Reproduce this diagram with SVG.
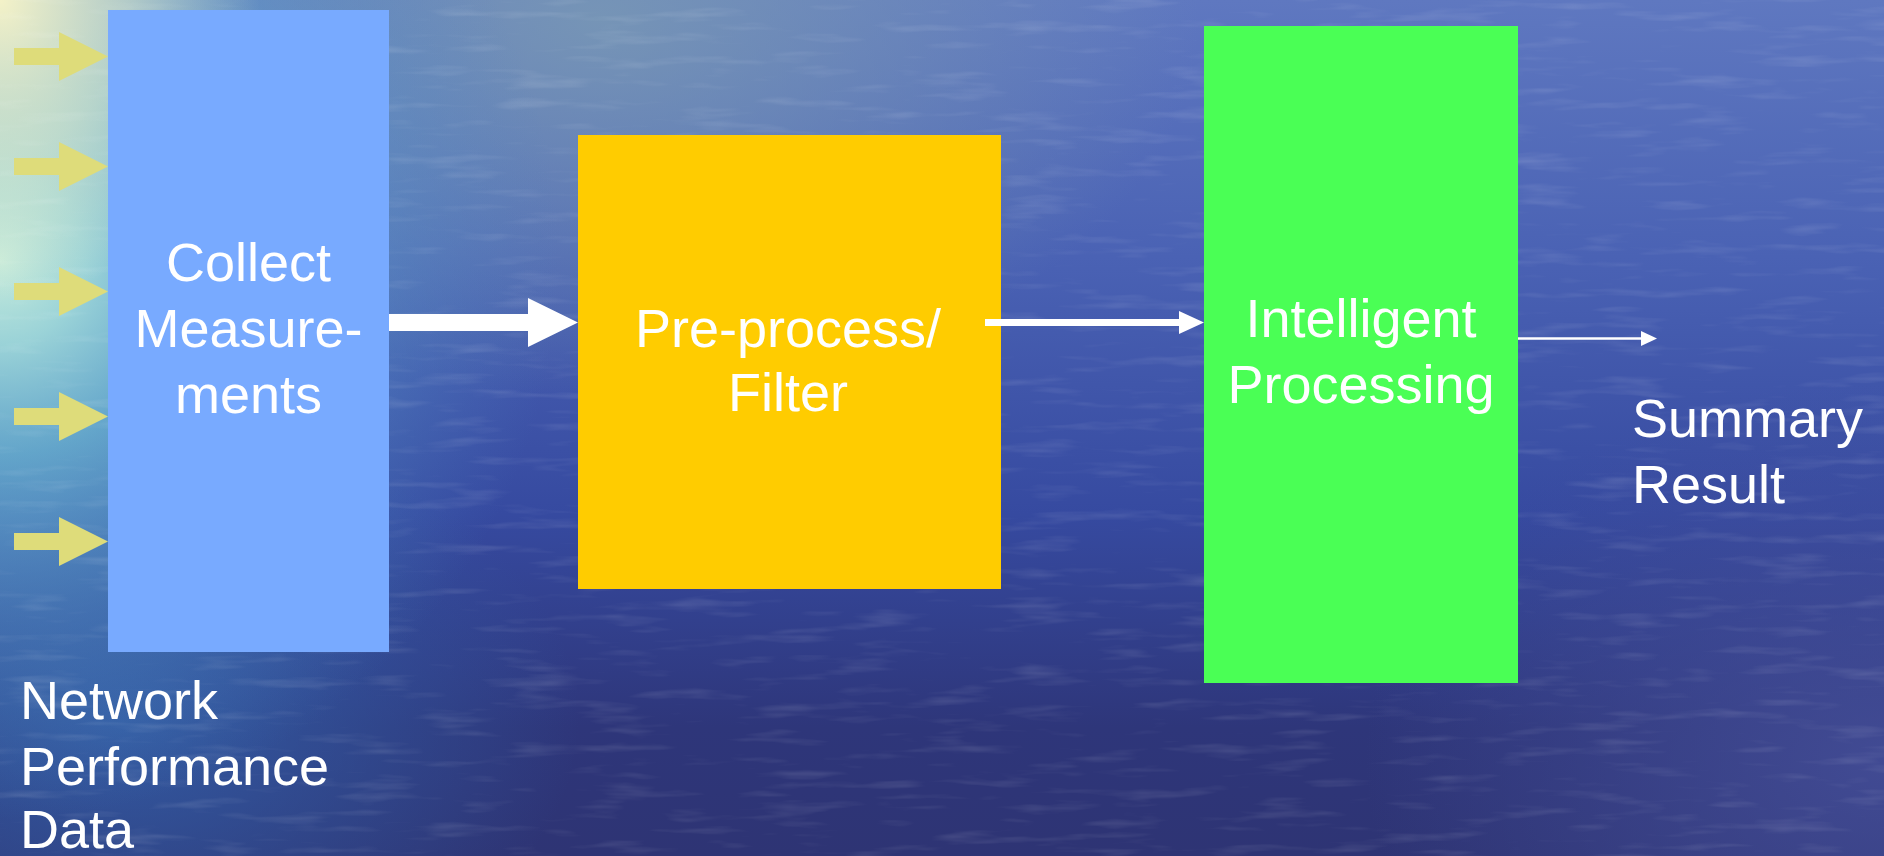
<svg xmlns="http://www.w3.org/2000/svg" width="1884" height="856" viewBox="0 0 1884 856">
<style>
.lbl{font-family:"Liberation Sans",Arial,sans-serif;font-size:54px;fill:#ffffff}
.mid{text-anchor:middle}
.in{fill:#dedc7a}
.wa{fill:#ffffff}
</style>
<defs>
<linearGradient id="bg" x1="0" y1="0" x2="0" y2="1">
<stop offset="0" stop-color="#5f78c0"/>
<stop offset="0.3" stop-color="#4a62b4"/>
<stop offset="0.6" stop-color="#364aa0"/>
<stop offset="0.85" stop-color="#2e367a"/>
<stop offset="1" stop-color="#2e3474"/>
</linearGradient>
<radialGradient id="glow" cx="0" cy="0" r="1" gradientUnits="userSpaceOnUse" gradientTransform="translate(0 260) scale(560 560)">
<stop offset="0" stop-color="#c8ecdc" stop-opacity="1"/>
<stop offset="0.15" stop-color="#a4e0dc" stop-opacity="0.9"/>
<stop offset="0.35" stop-color="#70c0d6" stop-opacity="0.75"/>
<stop offset="0.65" stop-color="#5a9ccc" stop-opacity="0.4"/>
<stop offset="1" stop-color="#4a84c4" stop-opacity="0"/>
</radialGradient>
<radialGradient id="corner" cx="0" cy="0" r="1" gradientUnits="userSpaceOnUse" gradientTransform="translate(0 0) scale(260 300)">
<stop offset="0" stop-color="#f4f2c8" stop-opacity="1"/>
<stop offset="0.5" stop-color="#e6ecc8" stop-opacity="0.6"/>
<stop offset="1" stop-color="#e0e8c8" stop-opacity="0"/>
</radialGradient>
<radialGradient id="top" cx="0" cy="0" r="1" gradientUnits="userSpaceOnUse" gradientTransform="translate(600 20) scale(600 380)">
<stop offset="0" stop-color="#7c9cb4" stop-opacity="0.8"/>
<stop offset="1" stop-color="#7c9cb4" stop-opacity="0"/>
</radialGradient>
<radialGradient id="bl" cx="0" cy="0" r="1" gradientUnits="userSpaceOnUse" gradientTransform="translate(120 720) scale(460 300)">
<stop offset="0" stop-color="#3464ac" stop-opacity="0.8"/>
<stop offset="1" stop-color="#3464ac" stop-opacity="0"/>
</radialGradient>
<radialGradient id="br" cx="0" cy="0" r="1" gradientUnits="userSpaceOnUse" gradientTransform="translate(1884 760) scale(520 380)">
<stop offset="0" stop-color="#46509a" stop-opacity="0.8"/>
<stop offset="1" stop-color="#46509a" stop-opacity="0"/>
</radialGradient>
<filter id="ripple" x="0" y="0" width="100%" height="100%">
<feTurbulence type="fractalNoise" baseFrequency="0.012 0.09" numOctaves="3" seed="7"/>
<feColorMatrix type="matrix" values="0 0 0 0 1  0 0 0 0 1  0 0 0 0 1  0 0 0 2.4 -1.3"/>
</filter>
</defs>
<g id="background">
<rect x="0" y="0" width="1884" height="856" fill="url(#bg)"/>
<rect x="0" y="0" width="1884" height="856" fill="url(#top)"/>
<rect x="0" y="0" width="1884" height="856" fill="url(#bl)"/>
<rect x="0" y="0" width="1884" height="856" fill="url(#br)"/>
<rect x="0" y="0" width="1884" height="856" fill="url(#glow)"/>
<rect x="0" y="0" width="1884" height="856" fill="url(#corner)"/>
<rect x="0" y="0" width="1884" height="856" filter="url(#ripple)" opacity="0.12"/>
</g>
<g id="collect">
<rect x="108" y="10" width="281" height="642" fill="#78aaff"/>
<text class="lbl mid" x="248.5" y="281">Collect</text>
<text class="lbl mid" x="248.5" y="347">Measure-</text>
<text class="lbl mid" x="248.5" y="413">ments</text>
</g>
<g id="preprocess">
<rect x="578" y="135" width="423" height="454" fill="#ffcc00"/>
<text class="lbl mid" x="788" y="347">Pre-process/</text>
<text class="lbl mid" x="788" y="411">Filter</text>
</g>
<g id="intelligent">
<rect x="1204" y="26" width="314" height="657" fill="#4aff55"/>
<text class="lbl mid" x="1361" y="337">Intelligent</text>
<text class="lbl mid" x="1361" y="403">Processing</text>
</g>
<g id="network-data">
<text class="lbl" x="20" y="719">Network</text>
<text class="lbl" x="20" y="785">Performance</text>
<text class="lbl" x="20" y="848">Data</text>
</g>
<g id="summary">
<text class="lbl" x="1632" y="437">Summary</text>
<text class="lbl" x="1632" y="503">Result</text>
</g>
<g id="connectors">
<polygon class="in" points="14,48 59,48 59,32 108,56.5 59,81 59,65 14,65"/>
<polygon class="in" points="14,158 59,158 59,142 108,166.5 59,191 59,175 14,175"/>
<polygon class="in" points="14,283 59,283 59,267 108,291.5 59,316 59,300 14,300"/>
<polygon class="in" points="14,408 59,408 59,392 108,416.5 59,441 59,425 14,425"/>
<polygon class="in" points="14,533 59,533 59,517 108,541.5 59,566 59,550 14,550"/>
<polygon class="wa" points="389,314 528,314 528,298 578,322.5 528,347 528,331 389,331"/>
<polygon class="wa" points="985,319 1179,319 1179,311 1204,322.5 1179,334 1179,326 985,326"/>
<line x1="1518" y1="338.5" x2="1643" y2="338.5" stroke="#ffffff" stroke-width="2.5"/>
<polygon class="wa" points="1641,331 1657,338.5 1641,346"/>
</g>
</svg>
